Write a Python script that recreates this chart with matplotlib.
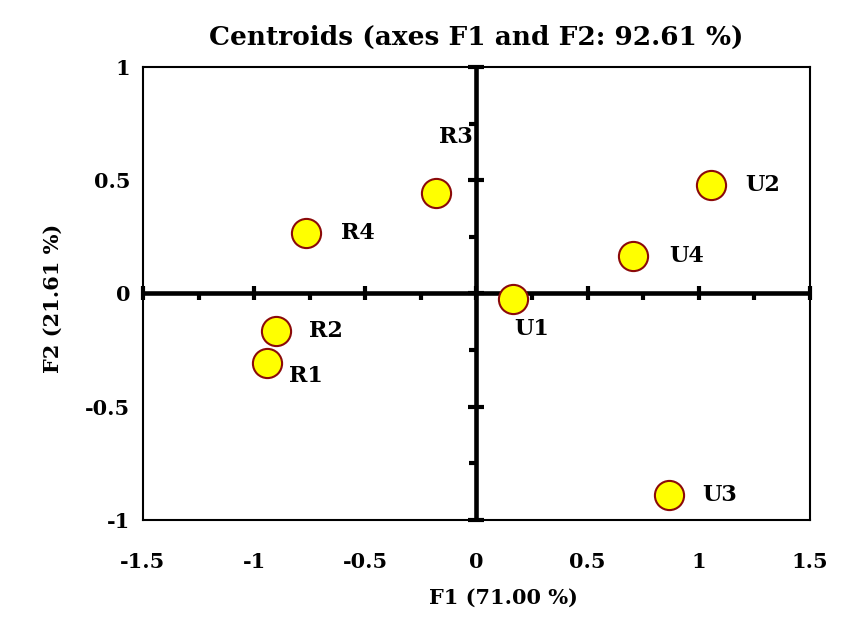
import matplotlib as mpl
mpl.use('Agg')
import matplotlib.pyplot as plt
import numpy as np

# centroid data (F1, F2)
labels = ['R1', 'R2', 'R3', 'R4', 'U1', 'U2', 'U3', 'U4']
f1 = [-0.94, -0.90, -0.18, -0.765, 0.166, 1.057, 0.864, 0.706]
f2 = [-0.307, -0.166, 0.444, 0.267, -0.024, 0.479, -0.89, 0.166]

xticks = [-1.5, -1, -0.5, 0, 0.5, 1, 1.5]
yticks = [-1, -0.5, 0, 0.5, 1]
xminor = [-1.25, -0.75, -0.25, 0.25, 0.75, 1.25]
yminor = [-0.75, -0.25, 0.25, 0.75]

# label offsets in points (dx, dy)
offsets = {'R1': (28, -9), 'R2': (36, 0), 'R3': (14, 40), 'R4': (37, 0),
           'U1': (13, -22), 'U2': (37, 0), 'U3': (37, 0), 'U4': (38, 0)}

mpl.rcParams['font.family'] = ['DejaVu Serif']
mpl.rcParams['font.weight'] = 'bold'

fig = plt.figure(figsize=(8.43, 6.37), dpi=100)
ax = fig.add_axes([0.1696, 0.1837, 0.7912, 0.7111])

ax.set_xlim(-1.5, 1.5)
ax.set_ylim(-1, 1)

for s in ax.spines.values():
    s.set_linewidth(1.5)

# central axes
ax.axhline(0, color='black', lw=3.3, zorder=2)
ax.axvline(0, color='black', lw=3.3, zorder=2)
ax.plot(xticks, np.zeros(len(xticks)), ls='none', marker='|', ms=10, mew=3, color='black', zorder=2, clip_on=False)
ax.plot(np.zeros(len(yticks)), yticks, ls='none', marker='_', ms=11, mew=3, color='black', zorder=2, clip_on=False)
ax.plot(xminor, np.zeros(len(xminor)), ls='none', marker=3, ms=5, mew=3, color='black', zorder=2)
ax.plot(np.zeros(len(yminor)), yminor, ls='none', marker=0, ms=5, mew=3, color='black', zorder=2)

ax.plot(f1, f2, ls='none', marker='o', ms=21, mfc='#FFFF00', mec='#8B0A0A', mew=1.5, zorder=3)

for lab, x, y in zip(labels, f1, f2):
    ax.annotate(lab, (x, y), xytext=offsets[lab], textcoords='offset points',
                ha='center', va='center', fontsize=16, fontweight='bold')

ax.set_xticks(xticks)
ax.set_yticks(yticks)
ax.set_xticklabels(['-1.5', '-1', '-0.5', '0', '0.5', '1', '1.5'])
ax.set_yticklabels(['-1', '-0.5', '0', '0.5', '1'])
ax.tick_params(length=0, labelsize=15)
ax.tick_params(axis='x', pad=23)
ax.tick_params(axis='y', pad=9)

ax.set_title('Centroids (axes F1 and F2: 92.61 %)', fontsize=19, fontweight='bold', pad=16)
ax.set_xlabel('F1 (71.00 %)', fontsize=15, fontweight='bold')
ax.set_ylabel('F2 (21.61 %)', fontsize=15, fontweight='bold')
ax.xaxis.set_label_coords(0.541, -0.15)
ax.yaxis.set_label_coords(-0.12, 0.49)

plt.savefig('out.png')
